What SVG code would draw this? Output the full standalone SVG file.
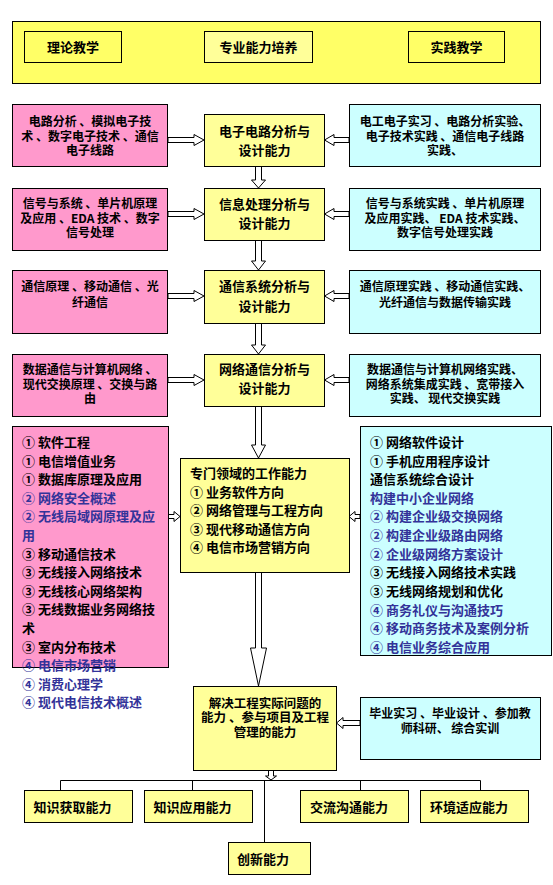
<svg xmlns="http://www.w3.org/2000/svg" width="553" height="885" viewBox="0 0 553 885">
<defs>
<style>
text{font-family:"Noto Sans CJK SC","Noto Sans CJK JP",sans-serif;font-size:13px;font-weight:bold;fill:#000}
.c{text-anchor:middle}
.s{font-size:12px}
.m{font-size:12.5px}
.b{fill:#333399}
.pink{fill:#FF99CC;stroke:#000;stroke-width:1}
.yel{fill:#FFFF99;stroke:#000;stroke-width:1}
.band{fill:#FFFF66;stroke:#000;stroke-width:1}
.cyan{fill:#CCFFFF;stroke:#000;stroke-width:1}
.arr{fill:#fff;stroke:#000;stroke-width:1}
.ln{fill:none;stroke:#000;stroke-width:1}
</style>
</defs>
<rect width="553" height="885" fill="#fff"/>

<g id="top">
<rect class="band" x="12.5" y="21.5" width="528" height="62"/>
<g id="theory"><rect class="band" x="24.5" y="31.5" width="97" height="31"/><text class="c" x="73" y="51.5">理论教学</text></g>
<g id="major"><rect class="yel" x="204.5" y="31.5" width="108" height="31"/><text class="c" x="258.5" y="51.5">专业能力培养</text></g>
<g id="practice"><rect class="band" x="408.5" y="31.5" width="96" height="31"/><text class="c" x="456.5" y="51.5">实践教学</text></g>
</g>

<g id="connectors">
<polygon class="arr" points="168,137.5 194,137.5 194,134.5 204,140 194,145.5 194,142.5 168,142.5"/>
<polygon class="arr" points="349,137.5 334,137.5 334,134.5 324.5,140 334,145.5 334,142.5 349,142.5"/>
<polygon class="arr" points="168,211.5 194,211.5 194,208.5 204,214 194,219.5 194,216.5 168,216.5"/>
<polygon class="arr" points="349,211.5 334,211.5 334,208.5 324.5,214 334,219.5 334,216.5 349,216.5"/>
<polygon class="arr" points="168,293.5 194,293.5 194,290.5 204,296 194,301.5 194,298.5 168,298.5"/>
<polygon class="arr" points="349,293.5 334,293.5 334,290.5 324.5,296 334,301.5 334,298.5 349,298.5"/>
<polygon class="arr" points="168,377.5 194,377.5 194,374.5 204,380 194,385.5 194,382.5 168,382.5"/>
<polygon class="arr" points="349,377.5 334,377.5 334,374.5 324.5,380 334,385.5 334,382.5 349,382.5"/>

<polygon class="arr" points="255.5,166 255.5,180 251.5,180 258.5,188 265.5,180 261.5,180 261.5,166"/>
<polygon class="arr" points="255.5,240 255.5,261 251.5,261 258.5,270 265.5,261 261.5,261 261.5,240"/>
<polygon class="arr" points="255.5,323 255.5,345 251.5,345 258.5,354 265.5,345 261.5,345 261.5,323"/>
<polygon class="arr" points="255.5,406 255.5,445 251.5,445 258.5,458 265.5,445 261.5,445 261.5,406"/>
<polygon class="arr" points="255.5,572 255.5,648 250.5,648 258.5,686 266.5,648 261.5,648 261.5,572"/>

<polygon class="arr" points="168,514.5 174,514.5 174,511.5 180,516.5 174,521.5 174,518.5 168,518.5"/>
<polygon class="arr" points="360,514.5 355,514.5 355,511.5 349,516.5 355,521.5 355,518.5 360,518.5"/>
<polygon class="arr" points="360,720.5 343,720.5 343,717.5 336.5,723 343,728.5 343,725.5 360,725.5"/>
<polygon class="arr" points="268.5,770 268.5,776 265.5,776 271,780 276.5,776 273.5,776 273.5,770"/>

<path class="ln" d="M60.5,780.5H480.5M60.5,780.5V790M192.5,780.5V790M360.5,780.5V790M480.5,780.5V790M264.5,780.5V842"/>
</g>

<g id="l1"><rect class="pink" x="12.5" y="104.5" width="155" height="62"/>
<text class="c s" x="90" y="126">电路分析 、模拟电子技</text><text class="c s" x="90" y="140.5">术 、数字电子技术 、通信</text><text class="c s" x="90" y="155">电子线路</text></g>
<g id="c1"><rect class="yel" x="204.5" y="114.5" width="120" height="52"/>
<text class="c" x="264.5" y="136">电子电路分析与</text><text class="c" x="264.5" y="155">设计能力</text></g>
<g id="r1"><rect class="cyan" x="349.5" y="104.5" width="191" height="62"/>
<text class="c s" x="445" y="126">电工电子实习 、电路分析实验、</text><text class="c s" x="445" y="140.5">电子技术实践 、通信电子线路</text><text class="c s" x="445" y="155">实践、</text></g>

<g id="l2"><rect class="pink" x="12.5" y="188.5" width="155" height="62"/>
<text class="c s" x="90" y="208">信号与系统 、单片机原理</text><text class="c s" x="90" y="222.5">及应用 、EDA 技术 、数字</text><text class="c s" x="90" y="237">信号处理</text></g>
<g id="c2"><rect class="yel" x="204.5" y="188.5" width="120" height="52"/>
<text class="c" x="264.5" y="208.5">信息处理分析与</text><text class="c" x="264.5" y="228">设计能力</text></g>
<g id="r2"><rect class="cyan" x="349.5" y="188.5" width="191" height="62"/>
<text class="c s" x="445" y="208">信号与系统实践 、单片机原理</text><text class="c s" x="445" y="222.5">及应用实践、 EDA 技术实践、</text><text class="c s" x="445" y="237">数字信号处理实践</text></g>

<g id="l3"><rect class="pink" x="12.5" y="270.5" width="155" height="63"/>
<text class="c s" x="90" y="291">通信原理 、移动通信 、光</text><text class="c s" x="90" y="307">纤通信</text></g>
<g id="c3"><rect class="yel" x="204.5" y="270.5" width="120" height="53"/>
<text class="c" x="264.5" y="291">通信系统分析与</text><text class="c" x="264.5" y="311">设计能力</text></g>
<g id="r3"><rect class="cyan" x="349.5" y="270.5" width="191" height="63"/>
<text class="c s" x="445" y="291">通信原理实践 、移动通信实践、</text><text class="c s" x="445" y="307">光纤通信与数据传输实践</text></g>

<g id="l4"><rect class="pink" x="12.5" y="354.5" width="155" height="62"/>
<text class="c s" x="90" y="374">数据通信与计算机网络 、</text><text class="c s" x="90" y="389">现代交换原理 、交换与路</text><text class="c s" x="90" y="403">由</text></g>
<g id="c4"><rect class="yel" x="204.5" y="354.5" width="120" height="52"/>
<text class="c" x="264.5" y="374">网络通信分析与</text><text class="c" x="264.5" y="393">设计能力</text></g>
<g id="r4"><rect class="cyan" x="349.5" y="354.5" width="191" height="62"/>
<text class="c s" x="445" y="374">数据通信与计算机网络实践、</text><text class="c s" x="445" y="389">网络系统集成实践 、宽带接入</text><text class="c s" x="445" y="403">实践、 现代交换实践</text></g>

<g id="courses"><rect class="pink" x="12.5" y="426.5" width="156" height="241"/>
<text x="22" y="447">① 软件工程</text>
<text x="22" y="465.6">① 电信增值业务</text>
<text x="22" y="484.2">① 数据库原理及应用</text>
<text class="b" x="22" y="502.8">② 网络安全概述</text>
<text class="b" x="22" y="521.4">② 无线局域网原理及应</text>
<text class="b" x="22" y="540">用</text>
<text x="22" y="558.6">③ 移动通信技术</text>
<text x="22" y="577.2">③ 无线接入网络技术</text>
<text x="22" y="595.8">③ 无线核心网络架构</text>
<text x="22" y="614.4">③ 无线数据业务网络技</text>
<text x="22" y="633">术</text>
<text x="22" y="651.6">③ 室内分布技术</text>
<text class="b" x="22" y="670.2">④ 电信市场营销</text>
<text class="b" x="22" y="688.8">④ 消费心理学</text>
<text class="b" x="22" y="707.4">④ 现代电信技术概述</text></g>

<g id="field"><rect class="yel" x="180.5" y="458.5" width="169" height="114"/>
<text x="190" y="478">专门领域的工作能力</text>
<text x="190" y="496.6">① 业务软件方向</text>
<text x="190" y="515.2">② 网络管理与工程方向</text>
<text x="190" y="533.8">③ 现代移动通信方向</text>
<text x="190" y="552.4">④ 电信市场营销方向</text></g>

<g id="labs"><rect class="cyan" x="360.5" y="426.5" width="191" height="229"/>
<text x="370" y="447">① 网络软件设计</text>
<text x="370" y="465.6">① 手机应用程序设计</text>
<text x="370" y="484.2">通信系统综合设计</text>
<text class="b" x="370" y="502.8">构建中小企业网络</text>
<text class="b" x="370" y="521.4">② 构建企业级交换网络</text>
<text class="b" x="370" y="540">② 构建企业级路由网络</text>
<text class="b" x="370" y="559">② 企业级网络方案设计</text>
<text x="370" y="577.4">③ 无线接入网络技术实践</text>
<text x="370" y="596">③ 无线网络规划和优化</text>
<text class="b" x="370" y="614.8">④ 商务礼仪与沟通技巧</text>
<text class="b" x="370" y="633.2">④ 移动商务技术及案例分析</text>
<text class="b" x="370" y="651.6">④ 电信业务综合应用</text></g>

<g id="solve"><rect class="yel" x="193.5" y="686.5" width="143" height="84"/>
<text class="c m" x="265" y="707.5">解决工程实际问题的</text><text class="c m" x="265" y="722">能力 、参与项目及工程</text><text class="c m" x="265" y="736.5">管理的能力</text></g>
<g id="grad"><rect class="cyan" x="360.5" y="697.5" width="180" height="62"/>
<text class="c s" x="450" y="718">毕业实习 、毕业设计 、参加教</text><text class="c s" x="450" y="732.5">师科研、 综合实训</text></g>

<g id="k1"><rect class="yel" x="24.5" y="790.5" width="108" height="32"/><text x="33.5" y="811.5">知识获取能力</text></g>
<g id="k2"><rect class="yel" x="144.5" y="790.5" width="108" height="32"/><text x="153.5" y="811.5">知识应用能力</text></g>
<g id="k3"><rect class="yel" x="300.5" y="790.5" width="108" height="32"/><text x="310" y="811.5">交流沟通能力</text></g>
<g id="k4"><rect class="yel" x="420.5" y="790.5" width="108" height="32"/><text x="430" y="811.5">环境适应能力</text></g>
<g id="k5"><rect class="yel" x="228.5" y="842.5" width="82" height="32"/><text x="237" y="864">创新能力</text></g>
</svg>
